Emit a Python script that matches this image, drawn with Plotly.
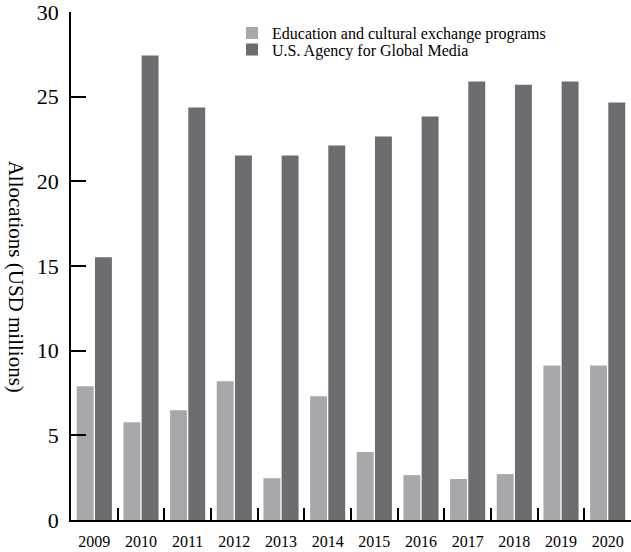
import plotly.graph_objects as go

years = ["2009", "2010", "2011", "2012", "2013", "2014", "2015", "2016", "2017", "2018", "2019", "2020"]
education = [7.9, 5.77, 6.48, 8.19, 2.47, 7.31, 4.01, 2.65, 2.42, 2.71, 9.13, 9.13]
usagm = [15.52, 27.43, 24.36, 21.53, 21.53, 22.12, 22.65, 23.83, 25.89, 25.71, 25.89, 24.65]
y_ticks = [0, 5, 10, 15, 20, 25, 30]

FONT = "Liberation Serif"
LIGHT = "#a7a8ac"
DARK = "#6c6d71"

fig = go.Figure()
fig.add_trace(go.Bar(x=years, y=education, name="Education and cultural exchange programs",
                     marker=dict(color=LIGHT, line=dict(width=0)), legend="legend"))
fig.add_trace(go.Bar(x=years, y=usagm, name="U.S. Agency for Global Media",
                     marker=dict(color=DARK, line=dict(width=0)), legend="legend2"))

leg_common = dict(xanchor="left", yanchor="middle",
                  font=dict(family=FONT, size=16, color="black"),
                  bgcolor="rgba(0,0,0,0)", itemclick=False, itemdoubleclick=False)

fig.update_layout(
    width=631, height=552,
    margin=dict(l=71, r=0, t=12, b=32),
    paper_bgcolor="white", plot_bgcolor="white",
    barmode="group", bargap=0.22, bargroupgap=0.07,
    font=dict(family=FONT, color="black"),
    showlegend=True,
    legend=dict(x=0.2875, y=0.9586, **leg_common),
    legend2=dict(x=0.2875, y=0.9262, **leg_common),
    xaxis=dict(type="category", tickson="boundaries", ticks="inside", ticklen=12,
               tickwidth=1.5, tickcolor="black", showline=True, linecolor="black",
               linewidth=1.5, showgrid=False, tickfont=dict(family=FONT, size=16),
               ticklabelstandoff=6, automargin=False, ticklabeloverflow="allow"),
    yaxis=dict(range=[0, 30], tickvals=y_ticks, ticks="inside", ticklen=15,
               tickwidth=1.5, tickcolor="black", showline=True, linecolor="black",
               linewidth=1.5, showgrid=False, zeroline=False,
               tickfont=dict(family=FONT, size=22), ticklabelstandoff=6,
               automargin=False, ticklabeloverflow="allow"),
    annotations=[dict(text="Allocations (USD millions)", textangle=90,
                      xref="paper", yref="paper", x=0, xshift=-55, y=0.479,
                      xanchor="center", yanchor="middle", showarrow=False,
                      font=dict(family=FONT, size=21, color="black"))],
)

# remove the page's default 8px body margin so the figure fills the window exactly
fig.write_html("out.html", config={"displayModeBar": False},
               post_script="document.body.style.margin='0';")
